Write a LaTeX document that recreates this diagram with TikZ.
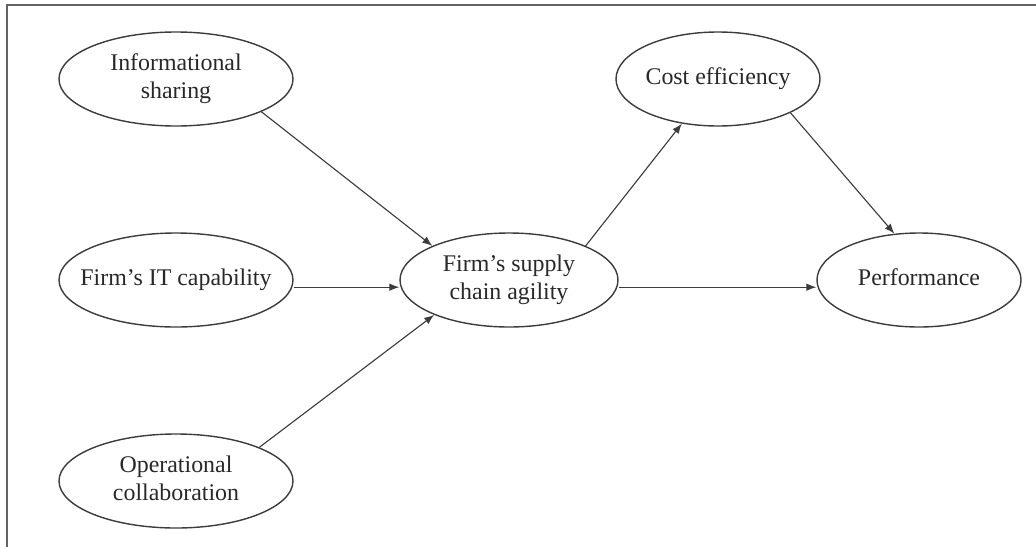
\documentclass[tikz,border=0pt]{standalone}
\usepackage{fontspec}
\setmainfont{Liberation Serif}
\usetikzlibrary{arrows.meta,shapes.geometric}
\definecolor{linegray}{RGB}{60,60,60}
\definecolor{textgray}{RGB}{40,40,40}
\newcommand{\ovaltext}[1]{\makebox[0pt]{\begin{tabular}{@{}c@{}}#1\end{tabular}}}

\begin{document}
\begin{tikzpicture}[
  construct/.style={ellipse, draw=linegray, line width=1pt, inner sep=0pt,
                    minimum height=2.35cm, text=textgray,
                    font=\fontsize{17}{20}\selectfont},
  arrow/.style={-{Latex[length=2.5mm,width=1.9mm]}, draw=linegray, line width=0.8pt},
  frame/.style={draw=linegray!80, line width=1pt},
]
\useasboundingbox (0,0) rectangle (25.9,-13.65);

% ---- Frame ----
\coordinate (fr0) at (0.175,-13.7);
\coordinate (fr1) at (0.175,-0.125);
\coordinate (fr2) at (25.95,-0.125);
\draw[frame] (fr0) -- (fr1) -- (fr2);

% ---- Antecedents ----
\node[construct, minimum width=5.85cm] (info) at (4.4,-1.975) {\ovaltext{Informational\\sharing}};
\node[construct, minimum width=5.85cm] (it)   at (4.4,-7.0)   {\ovaltext{Firm’s IT capability}};
\node[construct, minimum width=5.85cm] (oper) at (4.4,-12.025) {\ovaltext{Operational\\collaboration}};

% ---- Agility ----
\node[construct, minimum width=5.45cm] (sca) at (12.725,-7.0) {\ovaltext{Firm’s supply\\chain agility}};

% ---- Outcomes ----
\node[construct, minimum width=5.1cm] (cost) at (17.95,-1.975) {\ovaltext{Cost efficiency}};
\node[construct, minimum width=5.1cm] (perf) at (22.975,-7.0) {\ovaltext{Performance}};

% ---- Connections ----
\draw[arrow] (info.-21) -- (sca.156);
\draw[arrow] ([yshift=-0.18cm]it.east) -- ([yshift=-0.18cm]sca.west);
\draw[arrow] (oper.22) -- (sca.205);
\draw[arrow] (sca.24) -- (cost.231);
\draw[arrow] (cost.-25) -- (perf.118);
\draw[arrow] ([yshift=-0.18cm]sca.east) -- ([yshift=-0.18cm]perf.west);

\end{tikzpicture}
\end{document}
